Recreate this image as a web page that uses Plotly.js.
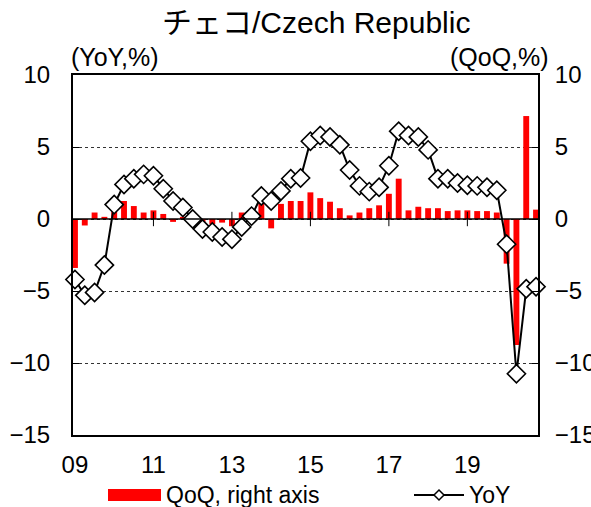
<!DOCTYPE html>
<html>
<head>
<meta charset="utf-8">
<script src="https://cdn.plot.ly/plotly-3.0.1.min.js"></script>
<style>html,body{margin:0;padding:0;background:#fff;}#chart{width:591px;height:507px;}</style>
</head>
<body>
<div id="chart"></div>
<script>
// ---- data (2009Q1 .. 2020Q4) ----
var startYear = 2009, endYear = 2020;
var quarters = [];
for (var y = startYear; y <= endYear; y++) { for (var q = 1; q <= 4; q++) quarters.push(y + 'Q' + q); }
var yoy = [-4.2,-5.3,-5.1,-3.2,1.0,2.4,2.8,3.1,3.0,2.1,1.25,0.8,
           0.0,-0.7,-0.9,-1.25,-1.4,-0.55,0.2,1.6,1.25,1.95,2.8,2.85,
           5.4,5.8,5.7,5.15,3.4,2.3,1.9,2.2,3.7,6.1,5.8,5.7,
           4.8,2.8,2.8,2.5,2.35,2.3,2.2,2.0,-1.75,-10.75,-4.85,-4.7];
var qoq = [-3.4,-0.45,0.45,0.15,0.55,1.25,0.9,0.45,0.6,0.35,-0.2,0.15,
           0.1,-0.35,-0.35,-0.25,-0.5,0.45,0.3,1.2,-0.65,1.05,1.25,1.25,
           1.85,1.45,1.2,0.75,0.25,0.45,0.75,0.95,1.75,2.8,0.6,0.85,
           0.75,0.75,0.55,0.6,0.6,0.55,0.55,0.45,-3.1,-8.75,7.15,0.65];
var xTickVals = ['2009Q1','2011Q1','2013Q1','2015Q1','2017Q1','2019Q1'];
var xTickText = ['09','11','13','15','17','19'];
var yTickVals = [-15,-10,-5,0,5,10];
var titleText = 'チェコ/Czech Republic';
var leftUnit = '(YoY,%)', rightUnit = '(QoQ,%)';
var legendBar = 'QoQ, right axis', legendLine = 'YoY';

// ---- layout geometry ----
var W = 591, H = 507, L = 73, R = 538, T = 75, B = 435;
function px(x) { return (x - L) / (R - L); }
function py(y) { return (B - y) / (B - T); }
var FONT = 'Liberation Sans, Arial, Noto Sans CJK JP, sans-serif';

var traces = [
  { type: 'bar', x: quarters, y: qoq, yaxis: 'y', marker: { color: '#FF0000', line: { width: 0 } },
    showlegend: false, hoverinfo: 'skip' },
  { type: 'scatter', mode: 'lines+markers', x: quarters, y: yoy, yaxis: 'y2',
    line: { color: '#000', width: 2 },
    marker: { symbol: 'diamond', size: 14, color: '#fff', line: { color: '#000', width: 1.6 } },
    showlegend: false, hoverinfo: 'skip', cliponaxis: false }
];

var shapes = [];
xTickVals.forEach(function (v, i) {
  if (i === 0) return;
  shapes.push({ type: 'line', xref: 'x', yref: 'y', x0: v, x1: v, y0: -0.5, y1: 0.5,
    line: { color: '#000', width: 1 }, layer: 'above' });
});
shapes.push({ type: 'line', xref: 'paper', yref: 'y', x0: 0, x1: 1, y0: 0, y1: 0,
  line: { color: '#000', width: 1.5 }, layer: 'above' });
// legend swatches
shapes.push({ type: 'rect', xref: 'paper', yref: 'paper', x0: px(108), x1: px(161), y0: py(501), y1: py(489),
  fillcolor: '#FF0000', line: { width: 0 } });
shapes.push({ type: 'line', xref: 'paper', yref: 'paper', x0: px(414), x1: px(464), y0: py(495), y1: py(495),
  line: { color: '#000', width: 2 } });
var dx = 5 / (R - L), dy = 5 / (B - T), cx = px(439), cy = py(495);
shapes.push({ type: 'path', xref: 'paper', yref: 'paper',
  path: 'M' + (cx - dx) + ',' + cy + ' L' + cx + ',' + (cy + dy) + ' L' + (cx + dx) + ',' + cy + ' L' + cx + ',' + (cy - dy) + ' Z',
  fillcolor: '#fff', line: { color: '#000', width: 1.5 } });

var annotations = [
  { text: leftUnit, xref: 'paper', yref: 'paper', x: px(115), y: py(57), showarrow: false,
    font: { family: FONT, size: 25, color: '#000' }, xanchor: 'center', yanchor: 'middle' },
  { text: rightUnit, xref: 'paper', yref: 'paper', x: px(499), y: py(57), showarrow: false,
    font: { family: FONT, size: 25, color: '#000' }, xanchor: 'center', yanchor: 'middle' },
  { text: legendBar, xref: 'paper', yref: 'paper', x: px(164), y: py(495), showarrow: false,
    font: { family: FONT, size: 23, color: '#000' }, xanchor: 'left', yanchor: 'middle' },
  { text: legendLine, xref: 'paper', yref: 'paper', x: px(467), y: py(495), showarrow: false,
    font: { family: FONT, size: 23, color: '#000' }, xanchor: 'left', yanchor: 'middle' }
];

var yCommon = {
  range: [-15, 10], tickvals: yTickVals, ticks: 'inside', ticklen: 6, tickcolor: '#000',
  showline: true, linecolor: '#000', linewidth: 2, zeroline: false,
  tickfont: { family: FONT, size: 24, color: '#000' }, fixedrange: true
};

var layout = {
  width: W, height: H,
  margin: { l: L, r: W - R, t: T, b: H - B, pad: 0 },
  paper_bgcolor: '#fff', plot_bgcolor: '#fff',
  title: { text: titleText, x: 0.535, xanchor: 'center', y: 1 - 22 / H, yanchor: 'middle',
    font: { family: FONT, size: 30, color: '#000' } },
  bargap: 0.4,
  xaxis: {
    type: 'category', categoryorder: 'array', categoryarray: quarters,
    range: [-0.2, quarters.length - 0.8],
    tickmode: 'array', tickvals: xTickVals, ticktext: xTickText, ticks: '',
    showgrid: false, showline: true, linecolor: '#000', linewidth: 2, mirror: true,
    tickfont: { family: FONT, size: 24, color: '#000' }, ticklabelstandoff: 7
  },
  yaxis: Object.assign({}, yCommon, {
    side: 'left', showgrid: true, gridcolor: '#333', griddash: 'dot', gridwidth: 1,
    ticklabelstandoff: 16
  }),
  yaxis2: Object.assign({}, yCommon, {
    side: 'right', overlaying: 'y', showgrid: false, ticklabelstandoff: 10
  }),
  shapes: shapes,
  annotations: annotations,
  showlegend: false
};

Plotly.newPlot('chart', traces, layout, { staticPlot: true });
</script>
</body>
</html>
